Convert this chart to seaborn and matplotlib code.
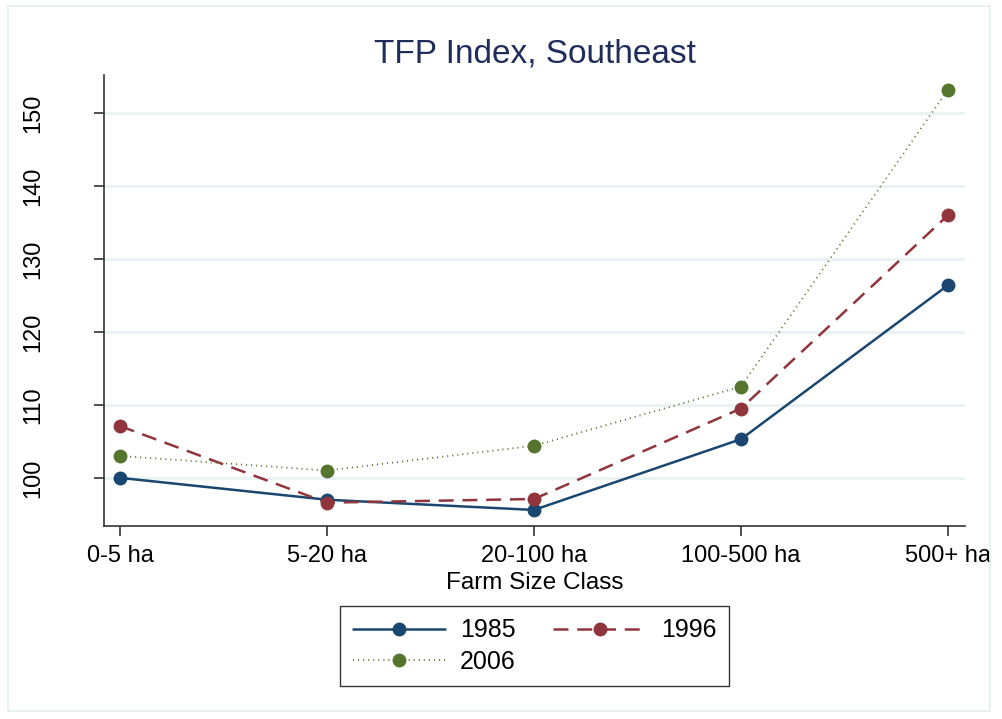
import matplotlib
matplotlib.use("Agg")
import matplotlib.pyplot as plt
import seaborn as sns
import pandas as pd

categories = ["0-5 ha", "5-20 ha", "20-100 ha", "100-500 ha", "500+ ha"]
tfp_1985 = [100.0, 97.0, 95.6, 105.3, 126.4]
tfp_1996 = [107.1, 96.6, 97.1, 109.5, 136.0]
tfp_2006 = [103.0, 101.0, 104.4, 112.5, 153.2]
years = ["1985", "1996", "2006"]
yticks = [100, 110, 120, 130, 140, 150]

sns.set_theme(style="white")
plt.rcParams['font.family'] = ['Liberation Sans', 'DejaVu Sans']
plt.rcParams['text.color'] = 'black'
plt.rcParams['axes.labelcolor'] = 'black'

rows = []
for yr, vals in zip(years, [tfp_1985, tfp_1996, tfp_2006]):
    for i, (c, v) in enumerate(zip(categories, vals)):
        rows.append({"pos": i, "size": c, "year": yr, "tfp": v})
df = pd.DataFrame(rows)

colors = {"1985": "#1a476f", "1996": "#90353b", "2006": "#55752f"}
dashes = {"1985": "", "1996": (6, 3.5), "2006": (0.6, 2.2)}
widths = {"1985": 1.8, "1996": 1.8, "2006": 1.3}

fig = plt.figure(figsize=(10.02, 7.19), dpi=100)
fig.patch.set_facecolor("white")
ax = fig.add_axes([104/1002, 1-526/719, (965-104)/1002, (526-75)/719])

handles = {}
for yr in years:
    sub = df[df["year"] == yr]
    sns.lineplot(data=sub, x="pos", y="tfp", ax=ax, color=colors[yr],
                 linewidth=widths[yr], marker="o", markersize=10,
                 markeredgewidth=0, label=yr, legend=False)
    if dashes[yr]:
        ax.lines[-1].set_dashes(dashes[yr])
    handles[yr] = ax.lines[-1]

ax.set_xlim(-0.077, 4.082)
ax.set_ylim(93.4, 155.2)
ax.set_xticks(range(len(categories)))
ax.set_xticklabels(categories, fontsize=17)
ax.set_yticks(yticks)
ax.set_yticklabels([str(t) for t in yticks], fontsize=17, rotation=90, va="center")
ax.yaxis.grid(True, color="#eaf2f3", linewidth=2.2)
ax.set_axisbelow(True)
for s in ["top", "right"]:
    ax.spines[s].set_visible(False)
for s in ["left", "bottom"]:
    ax.spines[s].set_color("#333333")
    ax.spines[s].set_linewidth(1.2)
ax.tick_params(axis="both", which="both", direction="out", length=7, width=1.2,
               color="#333333", left=True, bottom=True, labelcolor="black")
ax.tick_params(axis="y", pad=36)
ax.tick_params(axis="x", pad=7)
ax.set_xlabel("Farm Size Class", fontsize=17.5, labelpad=3, color="black")
ax.set_ylabel("")
ax.set_title("TFP Index, Southeast", fontsize=24, color="#1e2d5a", pad=9)

order = ["1985", "2006", "1996"]
leg = fig.legend([handles[k] for k in order], order, loc="center",
                 bbox_to_anchor=(534.5/1002, 1-646/719),
                 ncol=2, fontsize=18, frameon=True, fancybox=False, edgecolor="black",
                 handlelength=3.7, columnspacing=1.5, borderpad=0.5, labelspacing=0.3,
                 handletextpad=0.6, labelcolor="black")
leg.get_frame().set_linewidth(1.0)

border = plt.Rectangle((8/1002, 8/719), 982/1002, 705/719, transform=fig.transFigure,
                       fill=False, edgecolor="#e4eef0", linewidth=1.2)
fig.patches.append(border)

fig.savefig("out.png", dpi=100, facecolor="white")
